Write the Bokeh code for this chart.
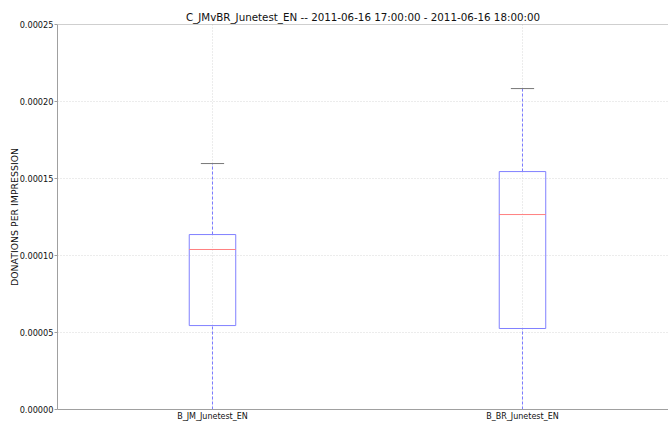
from bokeh.plotting import figure
from bokeh.models import FixedTicker, Span, Range1d, NumeralTickFormatter
from bokeh.embed import file_html
from bokeh.resources import INLINE

# ---- data ----
categories = ["B_JM_Junetest_EN", "B_BR_Junetest_EN"]
positions = [1, 2]
whisker_low = [0.0, 0.0]
q1 = [0.0000545, 0.0000526]
median = [0.0001039, 0.0001266]
q3 = [0.0001136, 0.0001545]
whisker_high = [0.0001597, 0.0002084]
y_ticks = [0.0, 0.00005, 0.00010, 0.00015, 0.00020, 0.00025]
title_text = "C_JMvBR_Junetest_EN -- 2011-06-16 17:00:00 - 2011-06-16 18:00:00"
y_label = "DONATIONS PER IMPRESSION"

FONT = "DejaVu Sans"
box_w = 0.15
cap_w = 0.075

p = figure(width=668, height=426, output_backend="svg", toolbar_location=None,
           x_range=Range1d(0.5, 2.471), y_range=Range1d(0, 0.00025),
           min_border_left=57, min_border_right=0, min_border_top=24,
           min_border_bottom=17, outline_line_color=None, title=title_text)
p.background_fill_color = "white"
p.border_fill_color = "white"

# title
p.title.text_font = FONT
p.title.text_font_size = "10.3px"
p.title.text_font_style = "normal"
p.title.text_color = "#111111"
p.title.align = "center"
p.title.offset = 4
p.title.standoff = 3

# grid
p.xgrid.ticker = FixedTicker(ticks=positions)
p.ygrid.ticker = FixedTicker(ticks=y_ticks)
for g in (p.xgrid, p.ygrid):
    g.grid_line_color = "#d8d8d8"
    g.grid_line_dash = "1 2"
    g.grid_line_width = 1

# axes
p.xaxis.ticker = FixedTicker(ticks=positions)
p.xaxis.major_label_overrides = {pos: c for pos, c in zip(positions, categories)}
p.yaxis.ticker = FixedTicker(ticks=y_ticks)
p.yaxis.formatter = NumeralTickFormatter(format="0.00000")
for ax in (p.xaxis, p.yaxis):
    ax.axis_line_color = "#a0a0a0"
    ax.major_tick_line_color = "#a0a0a0"
    ax.minor_tick_line_color = None
    ax.major_label_text_font = FONT
    ax.major_label_text_color = "#111111"
p.xaxis.major_label_text_font_size = "8px"
p.yaxis.major_label_text_font_size = "8.2px"
p.xaxis.major_tick_out = 0
p.xaxis.major_tick_in = 0
p.xaxis.major_label_standoff = 2
p.yaxis.major_tick_out = 3
p.yaxis.major_tick_in = 0
p.yaxis.major_label_standoff = 1
p.yaxis.axis_label = y_label
p.yaxis.axis_label_text_font = FONT
p.yaxis.axis_label_text_font_size = "9.4px"
p.yaxis.axis_label_text_font_style = "normal"
p.yaxis.axis_label_text_color = "#111111"
p.yaxis.axis_label_standoff = -3

# top spine
p.add_layout(Span(location=0.00025, dimension="width", line_color="#a0a0a0", line_width=1))

# whiskers
xs = positions
p.segment(x0=xs, y0=whisker_low, x1=xs, y1=q1, line_color="#7a7aff", line_dash="3 2", line_width=1)
p.segment(x0=xs, y0=q3, x1=xs, y1=whisker_high, line_color="#7a7aff", line_dash="3 2", line_width=1)
# caps
p.segment(x0=[x - cap_w / 2 for x in xs], y0=whisker_high, x1=[x + cap_w / 2 for x in xs],
          y1=whisker_high, line_color="#777777", line_width=1)
p.segment(x0=[x - cap_w / 2 for x in xs], y0=whisker_low, x1=[x + cap_w / 2 for x in xs],
          y1=whisker_low, line_color="#777777", line_width=1)
# boxes
p.quad(left=[x - box_w / 2 for x in xs], right=[x + box_w / 2 for x in xs], bottom=q1, top=q3,
       fill_color=None, line_color="#8080ff", line_width=1)
# medians
p.segment(x0=[x - box_w / 2 for x in xs], y0=median, x1=[x + box_w / 2 for x in xs], y1=median,
          line_color="#ff8080", line_width=1)

open("out.html", "w").write(file_html(p, INLINE))
